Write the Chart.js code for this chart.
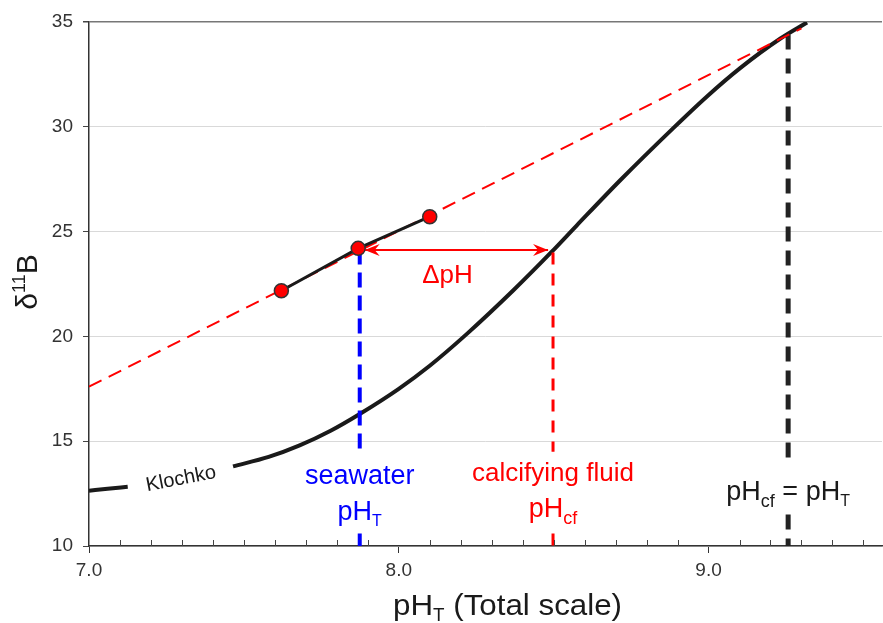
<!DOCTYPE html>
<html>
<head>
<meta charset="utf-8">
<script src="https://cdn.jsdelivr.net/npm/chart.js@4.4.0/dist/chart.umd.min.js"></script>
<style>
  html, body { margin: 0; padding: 0; background: #fff; }
  #wrap { width: 883px; height: 623px; position: relative; }
</style>
</head>
<body>
<div id="wrap"><canvas id="boronChart"></canvas></div>
<script>
// Klochko borate curve, null = gap for the label
const klochkoPH   = [7.00, 7.06, 7.125, 7.30, 7.465, 7.58, 7.68, 7.78, 7.874, 8.00, 8.10, 8.22, 8.37, 8.494, 8.575, 8.715, 8.887, 8.995, 9.102, 9.231, 9.318];
const klochkoD11B = [12.64, 12.73, 12.83, null, 13.80, 14.25, 14.80, 15.50, 16.30, 17.50, 18.60, 20.12, 22.2, 24.04, 25.3, 27.45, 29.95, 31.45, 32.8, 34.2, 34.98];

// measured samples
const samplePH   = [7.621, 7.869, 8.100];
const sampleD11B = [22.18, 24.20, 25.71];

// red dashed extension of the sample trend
const trendPH   = [7.00, 9.30];
const trendD11B = [17.6, 34.7];

// vertical markers (with gaps where the labels sit)
const seawaterPH = 7.874;
const seawaterD11B = [24.15, 14.4, null, 10.6, 10.0];
const fluidPH = 8.498;
const fluidD11B = [24.0, 14.5, null, 10.6, 10.0];
const equalPH = 9.257;
const equalD11B = [34.4, 14.0, null, 11.5, 10.0];

// ΔpH arrow
const arrowPH = [7.890, 8.482];
const arrowD11B = [24.12, 24.12];

const FONT = "'Liberation Sans', Arial, sans-serif";

function pts(xs, ys) { return xs.map((x, i) => ({ x, y: ys[i] })); }
function vpts(x, ys) { return ys.map(y => ({ x: y === null ? null : x, y })); }

function drawRich(ctx, parts, x, y, color, width) {
  // parts: [{t, size, dy}] drawn centered around x, baseline y
  let total = 0;
  parts.forEach(p => { ctx.font = `${p.size}px ${FONT}`; p.w = ctx.measureText(p.t).width; total += p.w; });
  const sx = width ? width / total : 1;
  ctx.save();
  ctx.translate(x, y);
  ctx.scale(sx, 1);
  let cx = -total / 2;
  ctx.fillStyle = color;
  ctx.textBaseline = 'alphabetic';
  ctx.textAlign = 'left';
  parts.forEach(p => {
    ctx.font = `${p.size}px ${FONT}`;
    ctx.fillText(p.t, cx, p.dy || 0);
    cx += p.w;
  });
  ctx.restore();
}

function arrowHead(ctx, x, y, dir, color) {
  // dir = -1 points left, +1 points right
  ctx.save();
  ctx.fillStyle = color;
  ctx.beginPath();
  ctx.moveTo(x, y);
  ctx.lineTo(x - dir * 15, y - 6);
  ctx.lineTo(x - dir * 10, y);
  ctx.lineTo(x - dir * 15, y + 6);
  ctx.closePath();
  ctx.fill();
  ctx.restore();
}

const annotations = {
  id: 'annotations',
  afterDatasetsDraw(chart) {
    const { ctx, scales: { x, y } } = chart;
    ctx.save();

    // minor ticks on the x axis, pointing up into the plot
    ctx.strokeStyle = '#444';
    ctx.lineWidth = 1;
    for (let v = 71; v <= 95; v++) {
      if (v % 10 === 0) continue;
      const px = Math.round(x.getPixelForValue(v / 10)) + 0.5;
      ctx.beginPath();
      ctx.moveTo(px, y.bottom);
      ctx.lineTo(px, y.bottom - 6);
      ctx.stroke();
    }

    // arrow heads
    arrowHead(ctx, x.getPixelForValue(arrowPH[0]), y.getPixelForValue(arrowD11B[0]), -1, '#ff0000');
    arrowHead(ctx, x.getPixelForValue(arrowPH[1]), y.getPixelForValue(arrowD11B[1]), 1, '#ff0000');

    // ΔpH
    drawRich(ctx, [{ t: 'ΔpH', size: 26 }], 447.5, 283, '#ff0000');

    // Klochko label
    ctx.save();
    ctx.translate(181, 479);
    ctx.rotate(-11 * Math.PI / 180);
    ctx.font = `20px ${FONT}`;
    ctx.fillStyle = '#1a1a1a';
    ctx.textAlign = 'center';
    ctx.textBaseline = 'middle';
    ctx.fillText('Klochko', 0, 0);
    ctx.restore();

    // seawater pH_T
    const sx = x.getPixelForValue(seawaterPH);
    drawRich(ctx, [{ t: 'seawater', size: 27 }], sx, 484, '#0000ff');
    drawRich(ctx, [{ t: 'pH', size: 27 }, { t: 'T', size: 16, dy: 6 }], sx, 520, '#0000ff');

    // calcifying fluid pH_cf
    const fx = x.getPixelForValue(fluidPH);
    drawRich(ctx, [{ t: 'calcifying fluid', size: 26 }], fx, 481, '#ff0000');
    drawRich(ctx, [{ t: 'pH', size: 27 }, { t: 'cf', size: 18, dy: 7 }], fx, 517, '#ff0000');

    // pH_cf = pH_T
    const ex = x.getPixelForValue(equalPH);
    drawRich(ctx, [{ t: 'pH', size: 27 }, { t: 'cf', size: 18, dy: 7 }, { t: ' = pH', size: 27 }, { t: 'T', size: 16, dy: 6 }], ex, 500, '#1a1a1a');

    // axis titles
    drawRich(ctx, [{ t: 'pH', size: 30 }, { t: 'T', size: 18, dy: 6 }, { t: ' (Total scale)', size: 30 }], 507.5, 615, '#1a1a1a', 229);

    ctx.save();
    ctx.translate(37, 282);
    ctx.rotate(-Math.PI / 2);
    drawRich(ctx, [{ t: 'δ', size: 30 }, { t: '11', size: 18, dy: -12 }, { t: 'B', size: 30 }], 0, 0, '#1a1a1a');
    ctx.restore();

    ctx.restore();
  }
};

new Chart(document.getElementById('boronChart'), {
  type: 'line',
  data: {
    datasets: [
      {
        label: 'samples',
        data: pts(samplePH, sampleD11B),
        borderColor: '#1a1a1a', borderWidth: 3,
        pointRadius: 7, pointBackgroundColor: '#ff0000',
        pointBorderColor: '#333', pointBorderWidth: 1.5
      },
      {
        label: 'arrow',
        data: pts(arrowPH, arrowD11B),
        borderColor: '#ff0000', borderWidth: 2, pointRadius: 0
      },
      {
        label: 'trend',
        data: pts(trendPH, trendD11B),
        borderColor: '#ff0000', borderWidth: 2, borderDash: [14, 8], pointRadius: 0
      },
      {
        label: 'seawater',
        data: vpts(seawaterPH, seawaterD11B),
        borderColor: '#0000ff', borderWidth: 4, borderDash: [15, 8], pointRadius: 0, spanGaps: false
      },
      {
        label: 'fluid',
        data: vpts(fluidPH, fluidD11B),
        borderColor: '#ff0000', borderWidth: 3, borderDash: [12, 9], pointRadius: 0, spanGaps: false
      },
      {
        label: 'equal',
        data: vpts(equalPH, equalD11B),
        borderColor: '#222', borderWidth: 5, borderDash: [15, 9], pointRadius: 0, spanGaps: false
      },
      {
        label: 'Klochko',
        data: pts(klochkoPH, klochkoD11B),
        borderColor: '#1a1a1a', borderWidth: 4, pointRadius: 0,
        cubicInterpolationMode: 'monotone', spanGaps: false
      }
    ]
  },
  options: {
    responsive: true, maintainAspectRatio: false, animation: false,
    devicePixelRatio: 1,
    layout: { autoPadding: false, padding: { top: 22, right: 1, left: 0, bottom: 0 } },
    plugins: { legend: { display: false }, tooltip: { enabled: false } },
    scales: {
      x: {
        type: 'linear', min: 7.0, max: 9.56,
        afterFit: s => { s.height = 77; s.paddingLeft = 0; s.paddingRight = 0; },
        border: { color: '#333', width: 1.5 },
        grid: {
          drawOnChartArea: false, tickLength: 7,
          tickColor: c => Math.abs(c.tick.value - Math.round(c.tick.value)) < 1e-6 ? '#333' : 'rgba(0,0,0,0)'
        },
        ticks: {
          stepSize: 0.1, autoSkip: false, maxRotation: 0, padding: 6,
          color: '#333', font: { family: FONT, size: 19 },
          callback: v => (Math.abs(v - Math.round(v)) < 1e-6 && v < 9.55) ? v.toFixed(1) : ''
        }
      },
      y: {
        min: 10, max: 35,
        afterFit: s => { s.width = 89; s.paddingTop = 0; s.paddingBottom = 0; },
        border: { color: '#333', width: 1.5 },
        grid: {
          tickLength: 6, tickColor: '#444',
          color: c => c.tick.value === 35 ? '#777' : '#d9d9d9',
          lineWidth: c => c.tick.value === 35 ? 1.5 : 1
        },
        ticks: {
          stepSize: 5, padding: 10, color: '#333',
          font: { family: FONT, size: 19 }
        }
      }
    }
  },
  plugins: [annotations]
});
</script>
</body>
</html>
